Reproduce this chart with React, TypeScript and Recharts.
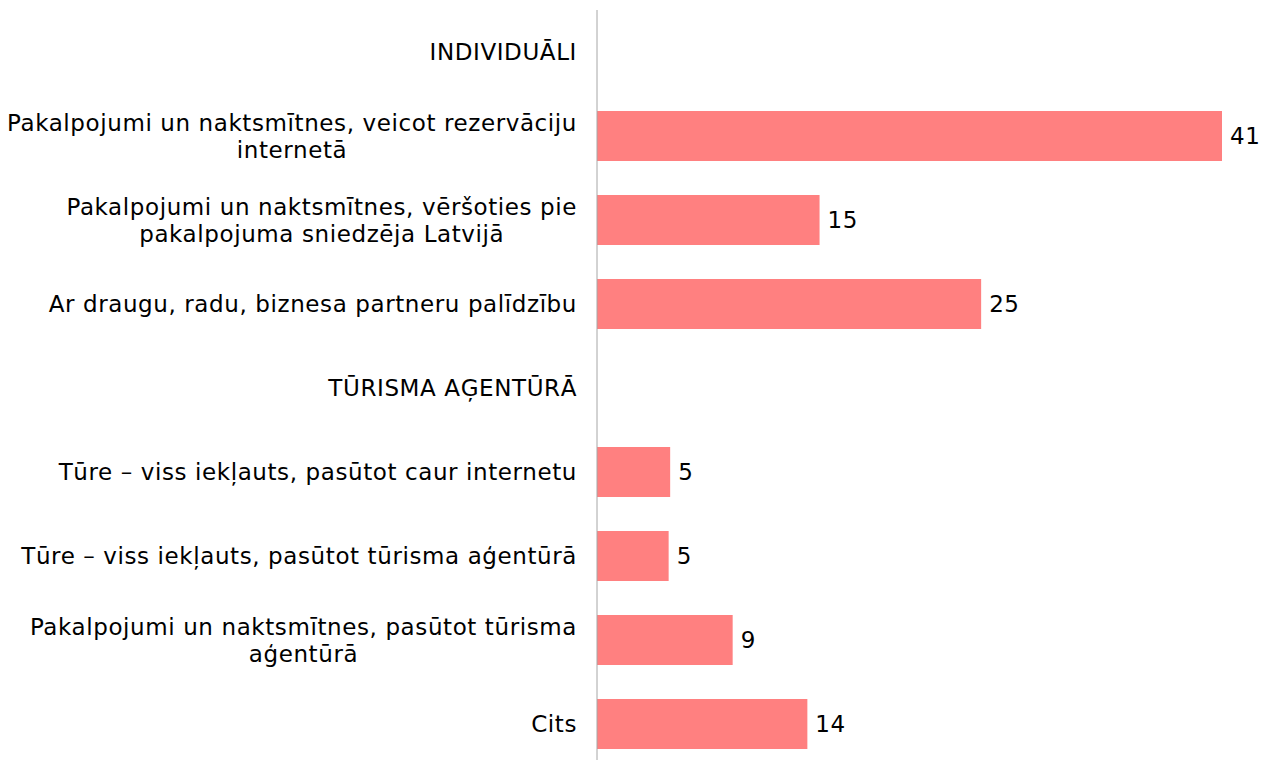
import React from "react";
import { BarChart, Bar, XAxis, YAxis, LabelList } from "recharts";

const categories = [
  "INDIVIDUĀLI",
  "Pakalpojumi un naktsmītnes, veicot rezervāciju\ninternetā",
  "Pakalpojumi un naktsmītnes, vēršoties pie\npakalpojuma sniedzēja Latvijā",
  "Ar draugu, radu, biznesa partneru palīdzību",
  "TŪRISMA AĢENTŪRĀ",
  "Tūre – viss iekļauts, pasūtot caur internetu",
  "Tūre – viss iekļauts, pasūtot tūrisma aģentūrā",
  "Pakalpojumi un naktsmītnes, pasūtot tūrisma\naģentūrā",
  "Cits",
];

const values: (number | null)[] = [null, 41.0, 14.6, 25.2, null, 4.8, 4.7, 8.9, 13.8];

const chartData = categories.map((name, i) => ({ name, value: values[i] }));

const FONT = '"DejaVu Sans", Verdana, sans-serif';
const FONT_SIZE = 23;
const LETTER_SPACING = 0.6;
const LINE_HEIGHT = 27;

let ctx: CanvasRenderingContext2D | null = null;
function measure(s: string) {
  if (!ctx) {
    ctx = document.createElement("canvas").getContext("2d");
    if (ctx) ctx.font = `${FONT_SIZE}px "DejaVu Sans"`;
  }
  const w = ctx ? ctx.measureText(s).width : s.length * FONT_SIZE * 0.6;
  return w + s.length * LETTER_SPACING;
}

function CategoryTick(props: any) {
  const { x, y, payload } = props;
  const lines: string[] = String(payload.value).split("\n");
  const w = Math.max(...lines.map(measure));
  const cx = x - w / 2;
  const startY = y - ((lines.length - 1) * LINE_HEIGHT) / 2;
  return (
    <g>
      {lines.map((line, i) => (
        <text
          key={i}
          x={cx}
          y={startY + i * LINE_HEIGHT}
          dy="0.36em"
          textAnchor="middle"
          fill="#000"
          fontFamily={FONT}
          fontSize={FONT_SIZE}
          letterSpacing={LETTER_SPACING}
        >
          {line}
        </text>
      ))}
    </g>
  );
}

export default function App() {
  return (
    <div style={{ position: "absolute", left: 0, top: 0, width: 1261, height: 760, overflow: "hidden", background: "#fff" }}>
      <BarChart
        width={1261}
        height={766}
        data={chartData}
        layout="vertical"
        margin={{ top: 10, right: 39, bottom: 0, left: 0 }}
        barSize={50}
      >
        <XAxis type="number" hide domain={[0, 41]} />
        <YAxis
          type="category"
          dataKey="name"
          width={597}
          tickSize={0}
          tickMargin={20}
          tickLine={false}
          axisLine={{ stroke: "#a6a6a6", strokeWidth: 1 }}
          tick={<CategoryTick />}
          interval={0}
        />
        <Bar dataKey="value" fill="#ff8080" isAnimationActive={false}>
          <LabelList
            dataKey="value"
            position="right"
            offset={8}
            fill="#000"
            fontFamily={FONT}
            fontSize={FONT_SIZE}
            letterSpacing={LETTER_SPACING}
            formatter={(v: any) => (v == null ? "" : Math.round(v))}
          />
        </Bar>
      </BarChart>
    </div>
  );
}
